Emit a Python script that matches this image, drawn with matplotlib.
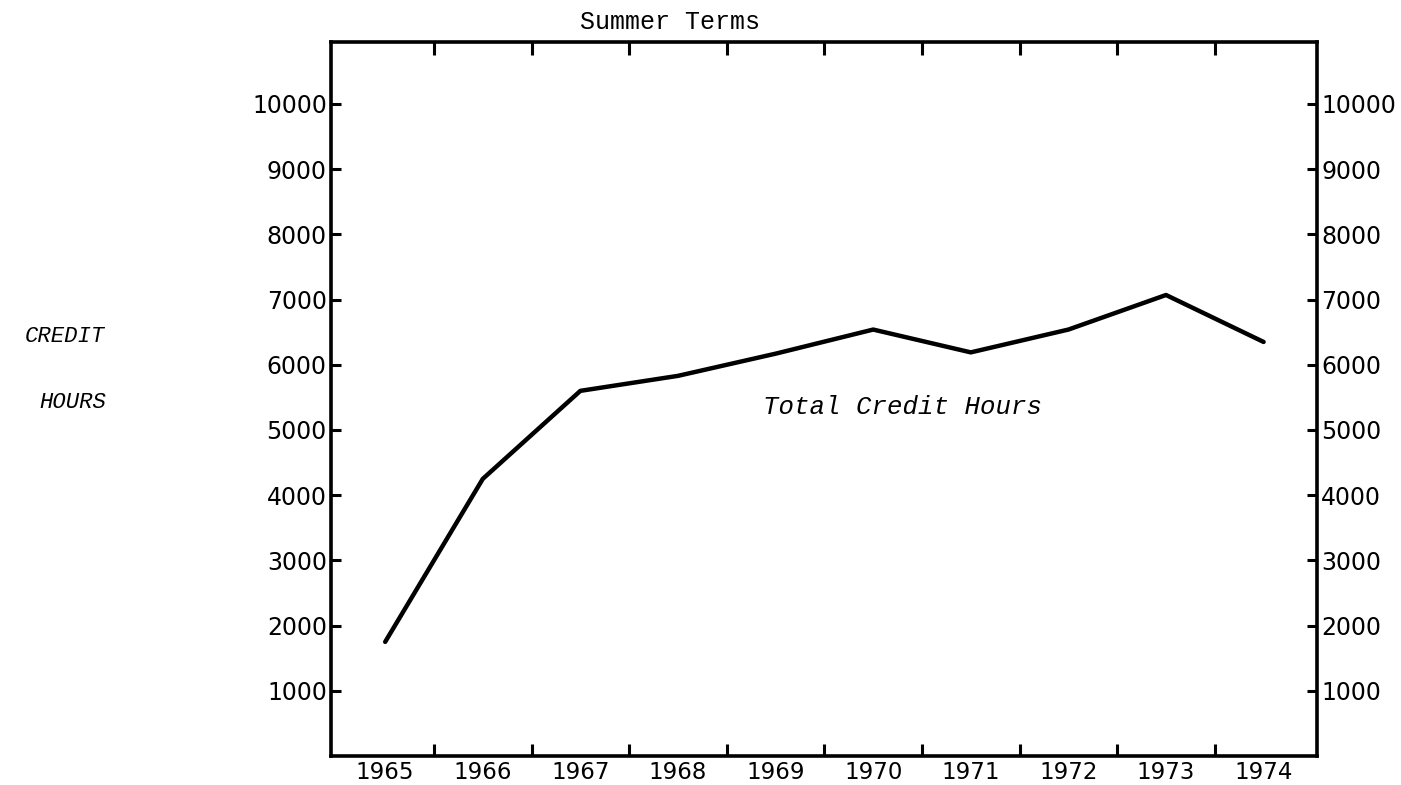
import numpy as np
import matplotlib
matplotlib.use("Agg")
import matplotlib.pyplot as plt

# Summer term credit hours, 1965-1974
years = ["1965", "1966", "1967", "1968", "1969", "1970", "1971", "1972", "1973", "1974"]
credit_hours = [1750, 4250, 5600, 5830, 6170, 6540, 6190, 6540, 7070, 6350]
y_ticks = [1000, 2000, 3000, 4000, 5000, 6000, 7000, 8000, 9000, 10000]

W, H = 1401, 785
fig = plt.figure(figsize=(W / 100, H / 100), dpi=100)
ax = fig.add_axes([331 / W, 1 - 756 / H, (1317 - 331) / W, (756 - 42) / H])

x = np.arange(len(years))
ax.plot(x, credit_hours, color="black", lw=3.2, solid_capstyle="round", solid_joinstyle="round")

ax.set_xlim(-0.555, 9.547)
ax.set_ylim(0, 10950)

for s in ax.spines.values():
    s.set_linewidth(2.6)

# year labels sit between the tick marks
ax.set_xticks(x[:-1] + 0.5)
ax.set_xticklabels([])
ax.set_xticks(x, minor=True)
ax.set_xticklabels(years, minor=True, fontsize=16.5, family="DejaVu Sans")
ax.tick_params(axis="x", which="major", direction="in", length=9, width=2.2, top=True, bottom=True)
ax.tick_params(axis="x", which="minor", length=0, pad=3.5)

ax.set_yticks(y_ticks)
ax.set_yticklabels([str(v) for v in y_ticks], fontsize=17, family="DejaVu Sans")
ax.tick_params(axis="y", direction="in", length=7.5, width=2.2, left=True, right=True,
               labelleft=True, labelright=True, pad=3)

mono = "Liberation Mono"
fig.text(580 / W, 1 - 29 / H, "Summer Terms", ha="left", va="baseline",
         fontsize=18, family=mono)
fig.text(105 / W, 1 - 342 / H, "CREDIT", ha="right", va="baseline",
         fontsize=16, family=mono, style="italic")
fig.text(106 / W, 1 - 408 / H, "HOURS", ha="right", va="baseline",
         fontsize=16, family=mono, style="italic")
ax.text(5.305, 5353, "Total Credit Hours", ha="center", va="center",
        fontsize=18.5, family=mono, style="italic")

fig.savefig("out.png", dpi=100)
